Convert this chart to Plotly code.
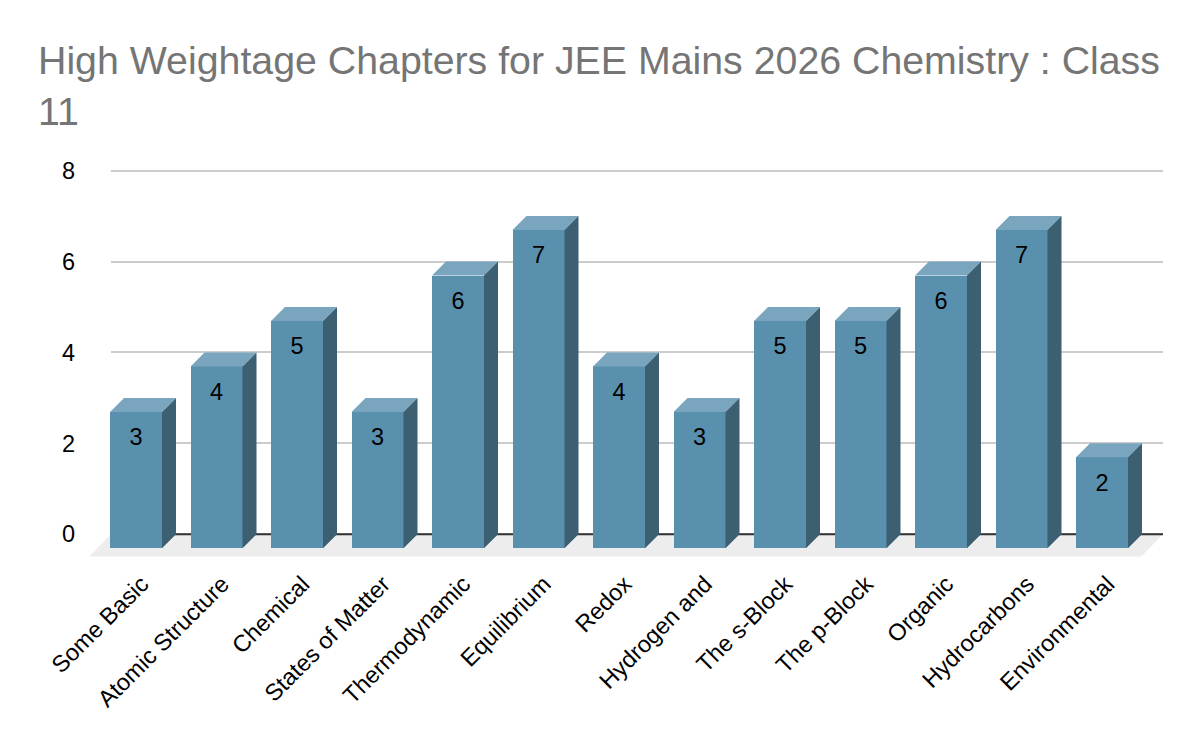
import plotly.graph_objects as go

categories = ["Some Basic", "Atomic Structure", "Chemical", "States of Matter", "Thermodynamic",
              "Equilibrium", "Redox", "Hydrogen and", "The s-Block", "The p-Block", "Organic",
              "Hydrocarbons", "Environmental"]
values = [3, 4, 5, 3, 6, 7, 4, 3, 5, 5, 6, 7, 2]
y_ticks = [0, 2, 4, 6, 8]
title_text = "High Weightage Chapters for JEE Mains 2026 Chemistry : Class<br>11"

W, H = 1200, 742
FRONT, TOP, SIDE, FLOOR = "#5990AE", "#79A6BE", "#3C5F72", "#EDEDED"
GRID, AXIS = "#CCCCCC", "#333333"
FONT = "Liberation Sans"

# pixel layout
PX_PER_CAT = 80.5
PX_PER_UNIT = 45.44
BAR_PX = 52
DEPTH_PX = 14
X0_PX = 136          # centre of first bar front
Y0_PX = 534.2        # y = 0 on back wall
LEFT_PX, GRID_LEFT_PX, RIGHT_PX = 89, 111, 1163
TOP_PX, BOTTOM_PX = 160, 556.7

dx = DEPTH_PX / PX_PER_CAT
dy = DEPTH_PX / PX_PER_UNIT
half = BAR_PX / PX_PER_CAT / 2
y_range = [(Y0_PX - BOTTOM_PX) / PX_PER_UNIT, (Y0_PX - TOP_PX) / PX_PER_UNIT]
x_range = [(LEFT_PX - X0_PX) / PX_PER_CAT, (RIGHT_PX - X0_PX) / PX_PER_CAT]
x_pos = list(range(len(categories)))

top_x, top_y, side_x, side_y = [], [], [], []
for i, v in zip(x_pos, values):
    fy = v - dy
    top_x += [i - half, i + half, i + half + dx, i - half + dx, None]
    top_y += [fy, fy, v, v, None]
    side_x += [i + half, i + half + dx, i + half + dx, i + half, None]
    side_y += [-dy, 0, v, fy, None]

floor_bottom = y_range[0]
slope = (GRID_LEFT_PX - LEFT_PX) / PX_PER_CAT
floor_x = [x_range[0], x_range[1] - slope, x_range[1], x_range[0] + slope, x_range[0]]
floor_y = [floor_bottom, floor_bottom, 0, 0, floor_bottom]

fig = go.Figure()
# subplot 1: gridlines only
fig.add_trace(go.Scatter(x=[0], y=[0], mode="markers", marker=dict(opacity=0), xaxis="x", yaxis="y",
                         hoverinfo="skip", showlegend=False))
# subplot 2: floor and zero line
fig.add_trace(go.Scatter(x=floor_x, y=floor_y, mode="lines", fill="toself", fillcolor=FLOOR,
                         line=dict(width=0), xaxis="x2", yaxis="y2", hoverinfo="skip", showlegend=False))
fig.add_trace(go.Scatter(x=[x_range[0] + slope, x_range[1]], y=[0, 0], mode="lines",
                         line=dict(color=AXIS, width=2), xaxis="x2", yaxis="y2",
                         hoverinfo="skip", showlegend=False))
# subplot 3: the bars
fig.add_trace(go.Bar(x=x_pos, y=values, base=[-dy] * len(values), width=BAR_PX / PX_PER_CAT,
                     marker=dict(color=FRONT, line=dict(width=0)), xaxis="x3", yaxis="y3", showlegend=False))
fig.add_trace(go.Scatter(x=top_x, y=top_y, mode="lines", fill="toself", fillcolor=TOP,
                         line=dict(width=0), xaxis="x3", yaxis="y3", hoverinfo="skip", showlegend=False))
fig.add_trace(go.Scatter(x=side_x, y=side_y, mode="lines", fill="toself", fillcolor=SIDE,
                         line=dict(width=0), xaxis="x3", yaxis="y3", hoverinfo="skip", showlegend=False))
fig.add_trace(go.Scatter(x=x_pos, y=[v - dy - 27.5 / PX_PER_UNIT for v in values], mode="text",
                         text=[str(v) for v in values], textposition="middle center",
                         textfont=dict(family=FONT, size=23.5, color="#000000"),
                         xaxis="x3", yaxis="y3", hoverinfo="skip", showlegend=False))

y_domain = [1 - BOTTOM_PX / H, 1 - TOP_PX / H]
fig.update_layout(
    width=W, height=H, margin=dict(l=0, r=0, t=0, b=0),
    paper_bgcolor="#FFFFFF", plot_bgcolor="rgba(0,0,0,0)",
    font=dict(family=FONT, size=23.5, color="#000000"),
    title=dict(text=title_text, x=38 / W, xanchor="left", y=1 - 74 / H, yanchor="top",
               font=dict(family=FONT, size=39.3, color="#757575")),
    xaxis=dict(domain=[GRID_LEFT_PX / W, RIGHT_PX / W], range=[0, 1], visible=False, anchor="y",
               automargin=False),
    yaxis=dict(domain=y_domain, range=y_range, tickvals=y_ticks, ticktext=[str(t) for t in y_ticks],
               showgrid=True, gridcolor=GRID, gridwidth=2, zeroline=False, showline=False, ticks="",
               ticklabelstandoff=35, tickfont=dict(family=FONT, size=23.5, color="#000000"), anchor="x",
               automargin=False),
    xaxis2=dict(domain=[LEFT_PX / W, RIGHT_PX / W], range=x_range, visible=False, anchor="y2",
                automargin=False),
    yaxis2=dict(domain=y_domain, range=y_range, visible=False, anchor="x2", automargin=False),
    xaxis3=dict(domain=[LEFT_PX / W, RIGHT_PX / W], range=x_range, tickmode="array",
                tickvals=[i + 0.07 for i in x_pos], ticktext=categories, tickangle=-45,
                showgrid=False, zeroline=False, showline=False, ticks="", anchor="y3",
                ticklabelstandoff=8, tickfont=dict(family=FONT, size=23.5, color="#000000"),
                automargin=False),
    yaxis3=dict(domain=y_domain, range=y_range, visible=False, anchor="x3", automargin=False),
    bargap=0,
)
fig.write_html("out.html", config=dict(displayModeBar=False),
               post_script="document.body.style.margin='0';")
